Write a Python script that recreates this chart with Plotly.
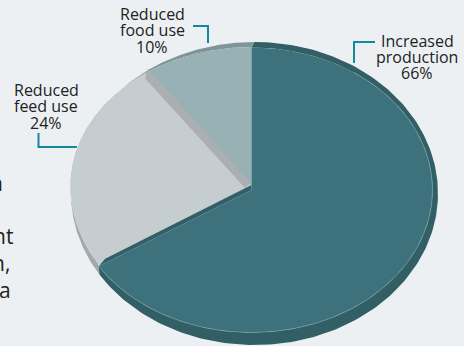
import numpy as np
import plotly.graph_objects as go

# Shares of the projected gap closure, clockwise from twelve o'clock
categories = ["Increased production", "Reduced feed use", "Reduced food use"]
shares = [66, 24, 10]
top_colors = ["#3D717B", "#C6CDD0", "#97B1B5"]
rim_colors = ["#325E66", "#A3A8AB", "#7E9698"]
label_lines = [
    (["Increased", "production", "66%"], 417, [41, 57, 73]),
    (["Reduced", "feed use", "24%"], 46, [90, 106, 123]),
    (["Reduced", "food use", "10%"], 152, [14, 30, 47]),
]
# Body copy running in from the left edge of the page
cut_off_text = [("n", -12, 183), ("nt", -9, 236), ("n,", -10, 263), ("a", -3, 290)]

BG = "#ECF0F3"
CX = 251.5
TEAL_CY, RAISED_CY = 190.0, 186.0


def raised_face(theta):
    """The two smaller slices sit slightly higher than the large one."""
    ry = np.where(np.cos(theta) >= 0, 139.0, 147.0)
    return CX + 181.0 * np.sin(theta), RAISED_CY - ry * np.cos(theta)


def teal_face(theta):
    return CX + 181.0 * np.sin(theta), TEAL_CY - 142.5 * np.cos(theta)


def rim_edge(theta):
    return 254.5 + 183.5 * np.sin(theta), 193.5 - 151.5 * np.cos(theta)


edges = np.cumsum([0] + shares) / sum(shares) * 2 * np.pi
fig = go.Figure()


def poly(x, y, color):
    fig.add_trace(go.Scatter(x=x, y=y, mode="lines", fill="toself", fillcolor=color,
                             line=dict(width=0), hoverinfo="skip", showlegend=False))


def arc(i, n=200):
    return np.linspace(edges[i], edges[i + 1], n)


# Rim of the disc, drawn under the top faces
for i in (1, 2, 0):
    t = arc(i)
    sx, sy = teal_face(t) if i == 0 else raised_face(t)
    rx, ry = rim_edge(t)
    poly(np.r_[sx, rx[::-1]], np.r_[sy, ry[::-1]], rim_colors[i])

# Top faces of the two smaller slices
for i in (1, 2):
    sx, sy = raised_face(arc(i))
    poly(np.r_[CX, sx, CX], np.r_[RAISED_CY, sy, RAISED_CY], top_colors[i])

# Wall between the food and feed slices
tip_x, tip_y = (float(v[0]) for v in raised_face(np.array([edges[2]])))
poly([CX - 0.5, tip_x + 3, tip_x, CX - 6.5],
     [RAISED_CY - 3, tip_y - 5, tip_y + 5, RAISED_CY + 2], "#ABAFB1")

# Wall of the large slice facing the feed slice
end_x, end_y = (float(v[0]) for v in teal_face(np.array([edges[1]])))
poly([CX, end_x + 6.5, end_x, CX], [RAISED_CY - 1, end_y - 7.5, end_y, TEAL_CY], rim_colors[0])

# Top face of the large slice
sx, sy = teal_face(arc(0, 300))
poly(np.r_[CX, sx, CX], np.r_[TEAL_CY, sy, TEAL_CY], top_colors[0])

# Thin highlight where the top face meets the rim
t = np.linspace(edges[0] + 0.6, edges[1], 240)
hx, hy = teal_face(t)
fig.add_trace(go.Scatter(x=hx, y=hy, mode="lines", line=dict(color="#7FA3A9", width=0.6),
                         hoverinfo="skip", showlegend=False))

# Leader lines
leaders = [
    ([375, 354, 354], [42, 42, 63]),
    ([77, 38.5, 38.5], [147, 147, 133]),
    ([193, 208, 208], [26, 26, 43]),
]
for lx, ly in leaders:
    fig.add_trace(go.Scatter(x=lx, y=ly, mode="lines", line=dict(color="#12899E", width=2),
                             hoverinfo="skip", showlegend=False))

annotations = [
    dict(x=x, y=y, text=line, showarrow=False, xanchor="center", yanchor="middle",
         font=dict(family="Open Sans", size=16, color="#222222"))
    for lines, x, ys in label_lines
    for line, y in zip(lines, ys)
]
annotations += [
    dict(x=0, y=y, text=txt, showarrow=False, xanchor="left", yanchor="middle", xshift=dx,
         font=dict(family="Open Sans", size=21, color="#222222"))
    for txt, dx, y in cut_off_text
]

fig.update_layout(
    width=464, height=346, margin=dict(l=0, r=0, t=0, b=0),
    paper_bgcolor=BG, plot_bgcolor=BG, showlegend=False,
    xaxis=dict(range=[0, 464], visible=False, fixedrange=True),
    yaxis=dict(range=[346, 0], visible=False, fixedrange=True),
    annotations=annotations,
)
fig.write_html("out.html", config={"displayModeBar": False})
